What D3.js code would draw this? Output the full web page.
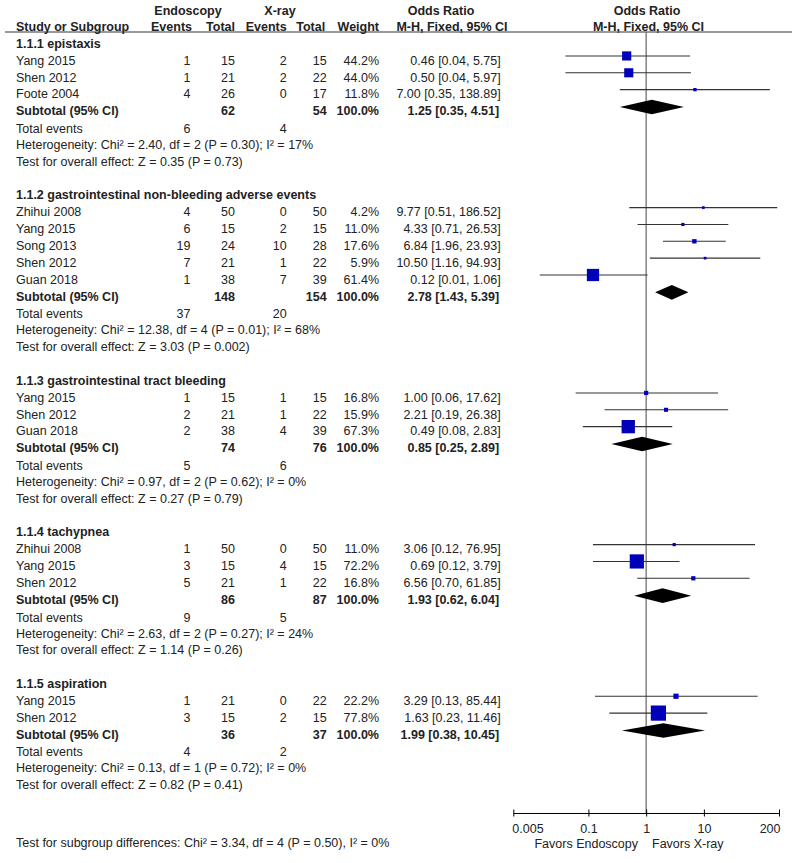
<!DOCTYPE html>
<html><head><meta charset="utf-8">
<script src="https://cdn.jsdelivr.net/npm/d3@7"></script>
<style>
body{margin:0;background:#fff}
text{font-family:"Liberation Sans",Arial,Helvetica,sans-serif;font-size:12.5px;fill:#222}
.b{font-weight:bold}
</style>
</head><body><svg id="c" width="797" height="863"></svg>
<script>
const groups = ["1.1.1 epistaxis","1.1.2 gastrointestinal non-bleeding adverse events","1.1.3 gastrointestinal tract bleeding","1.1.4 tachypnea","1.1.5 aspiration"];
const studyGroup = [0,0,0,1,1,1,1,1,2,2,2,3,3,3,4,4];
const studyNames = ["Yang 2015","Shen 2012","Foote 2004","Zhihui 2008","Yang 2015","Song 2013","Shen 2012","Guan 2018","Yang 2015","Shen 2012","Guan 2018","Zhihui 2008","Yang 2015","Shen 2012","Yang 2015","Shen 2012"];
const endoEvents = [1,1,4,4,6,19,7,1,1,2,2,1,3,5,1,3];
const endoTotal  = [15,21,26,50,15,24,21,38,15,21,38,50,15,21,21,15];
const xrayEvents = [2,2,0,0,2,10,1,7,1,1,4,0,4,1,0,2];
const xrayTotal  = [15,22,17,50,15,28,22,39,15,22,39,50,15,22,22,15];
const weights    = [44.2,44.0,11.8,4.2,11.0,17.6,5.9,61.4,16.8,15.9,67.3,11.0,72.2,16.8,22.2,77.8];
const oddsRatio  = [0.46,0.50,7.00,9.77,4.33,6.84,10.50,0.12,1.00,2.21,0.49,3.06,0.69,6.56,3.29,1.63];
const ciLow      = [0.04,0.04,0.35,0.51,0.71,1.96,1.16,0.0144,0.06,0.19,0.08,0.12,0.12,0.70,0.13,0.23];
const ciHigh     = [5.75,5.97,138.89,186.52,26.53,23.93,94.93,1.06,17.62,26.38,2.83,76.95,3.79,61.85,85.44,11.46];
const subEndoTotal = [62,148,74,86,36];
const subXrayTotal = [54,154,76,87,37];
const subOR   = [1.25,2.78,0.85,1.93,1.99];
const subLow  = [0.35,1.43,0.25,0.62,0.38];
const subHigh = [4.51,5.39,2.89,6.04,10.45];
const totEndoEvents = [6,37,5,9,4];
const totXrayEvents = [4,20,6,5,2];
const heterogeneity = [
  "Heterogeneity: Chi² = 2.40, df = 2 (P = 0.30); I² = 17%",
  "Heterogeneity: Chi² = 12.38, df = 4 (P = 0.01); I² = 68%",
  "Heterogeneity: Chi² = 0.97, df = 2 (P = 0.62); I² = 0%",
  "Heterogeneity: Chi² = 2.63, df = 2 (P = 0.27); I² = 24%",
  "Heterogeneity: Chi² = 0.13, df = 1 (P = 0.72); I² = 0%"];
const overallEffect = [
  "Test for overall effect: Z = 0.35 (P = 0.73)",
  "Test for overall effect: Z = 3.03 (P = 0.002)",
  "Test for overall effect: Z = 0.27 (P = 0.79)",
  "Test for overall effect: Z = 1.14 (P = 0.26)",
  "Test for overall effect: Z = 0.82 (P = 0.41)"];
const subgroupTest = "Test for subgroup differences: Chi² = 3.34, df = 4 (P = 0.50), I² = 0%";
const axisTicks = [0.005,0.1,1,10,200];
const axisTickLabels = ["0.005","0.1","1","10","200"];
const favorsLeft = "Favors Endoscopy", favorsRight = "Favors X-ray";

const svg = d3.select("#c");
const x = d3.scaleLog().domain([0.005,200]).range([513.3,779]);
const rowY = d3.scaleLinear().domain([0,1]).range([43.3,60.15]);
const boxSize = d3.scaleLinear().domain([0,100]).range([1.2,19.2]);
const BL = 4.5, MK = -4.2;
const col = {name:16, ee:190.5, et:235, xe:286.7, xt:326.7, w:379, or:500.7};
const blue = "#0000bb";

function txt(xp, y, s, anchor, bold){
  svg.append("text").attr("x",xp).attr("y",y+BL).attr("text-anchor",anchor||"start")
    .attr("class",bold?"b":null).text(s);
}
const fmt = v => v.toFixed(2);
const orLabel = (o,l,h) => `${fmt(o)} [${fmt(l)}, ${fmt(h)}]`;

// header
txt(188,10,"Endoscopy","middle",true);
txt(280,10,"X-ray","middle",true);
txt(441,10,"Odds Ratio","middle",true);
txt(647,10,"Odds Ratio","middle",true);
txt(col.name,26,"Study or Subgroup","start",true);
txt(col.ee+1.5,26,"Events","end",true);
txt(col.et,26,"Total","end",true);
txt(col.xe,26,"Events","end",true);
txt(col.xt-1.5,26,"Total","end",true);
txt(col.w,26,"Weight","end",true);
txt(452,26,"M-H, Fixed, 95% CI","middle",true);
txt(648.5,26,"M-H, Fixed, 95% CI","middle",true);
svg.append("line").attr("x1",5).attr("x2",792).attr("y1",32).attr("y2",32).attr("stroke","#333").attr("stroke-width",1);

const axisY = 813;
// null line
svg.append("line").attr("x1",x(1)).attr("x2",x(1)).attr("y1",32).attr("y2",axisY).attr("stroke","#666").attr("stroke-width",1.2);

let idx = 0;
groups.forEach((g,gi)=>{
  txt(col.name,rowY(idx),g,"start",true); idx++;
  d3.range(studyNames.length).filter(i=>studyGroup[i]===gi).forEach(i=>{
    const y = rowY(idx);
    txt(col.name,y,studyNames[i]);
    txt(col.ee,y,endoEvents[i],"end");
    txt(col.et,y,endoTotal[i],"end");
    txt(col.xe,y,xrayEvents[i],"end");
    txt(col.xt,y,xrayTotal[i],"end");
    txt(col.w,y,weights[i].toFixed(1)+"%","end");
    txt(col.or,y,orLabel(oddsRatio[i],ciLow[i],ciHigh[i]),"end");
    const my = y+MK;
    svg.append("line").attr("x1",x(ciLow[i])).attr("x2",x(ciHigh[i])).attr("y1",my).attr("y2",my)
      .attr("stroke","#333").attr("stroke-width",1.1);
    const s = Math.max(2.7,boxSize(weights[i]));
    svg.append("rect").attr("x",x(oddsRatio[i])-s/2).attr("y",my-s/2).attr("width",s).attr("height",s).attr("fill",blue);
    idx++;
  });
  let y = rowY(idx);
  txt(col.name,y,"Subtotal (95% CI)","start",true);
  txt(col.et,y,subEndoTotal[gi],"end",true);
  txt(col.xt,y,subXrayTotal[gi],"end",true);
  txt(col.w,y,"100.0%","end",true);
  txt(col.or-1.5,y,orLabel(subOR[gi],subLow[gi],subHigh[gi]),"end",true);
  const dy = y+MK+0.5, h = 7.3;
  svg.append("path").attr("d",`M${x(subLow[gi])},${dy} L${x(subOR[gi])},${dy-h} L${x(subHigh[gi])},${dy} L${x(subOR[gi])},${dy+h} Z`).attr("fill","#000");
  idx++;
  y = rowY(idx)+0.8;
  txt(col.name,y,"Total events");
  txt(col.ee,y,totEndoEvents[gi],"end");
  txt(col.xe,y,totXrayEvents[gi],"end");
  idx++;
  txt(col.name,rowY(idx),heterogeneity[gi]); idx++;
  txt(col.name,rowY(idx),overallEffect[gi]); idx++;
  idx++;
});

// axis
const ax = svg.append("g").attr("transform",`translate(0,${axisY})`)
  .call(d3.axisBottom(x).tickValues(axisTicks).tickFormat((d,i)=>axisTickLabels[i]).tickSizeOuter(0));
ax.select(".domain").attr("stroke","#000");
ax.selectAll(".tick line").attr("y1",-3.5).attr("y2",3.5).attr("stroke","#000");
ax.selectAll(".tick text").attr("y",0).attr("dy",0).attr("transform",null)
  .style("font-size","12.5px").style("font-family",'"Liberation Sans",Arial,sans-serif').attr("fill","#222")
  .attr("y",832.5-axisY)
  .attr("text-anchor",(d,i)=> i===0?"start":(i===axisTicks.length-1?"end":"middle"))
  .attr("x",(d,i)=> i===0?-1.5:(i===axisTicks.length-1?1:0));
txt(638,843,favorsLeft,"end");
txt(652,843,favorsRight,"start");

txt(col.name,842.3,subgroupTest);
</script>
</body></html>
